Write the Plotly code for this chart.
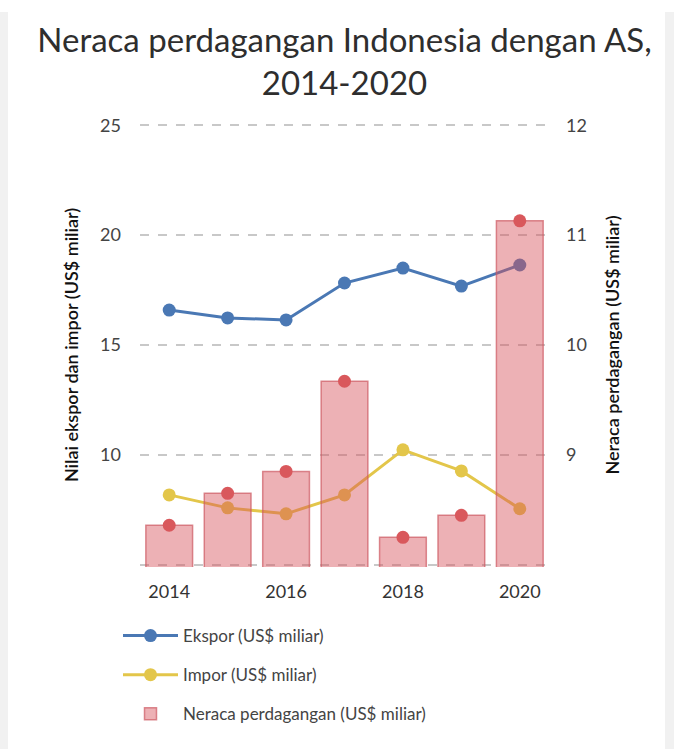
import plotly.graph_objects as go

years = [2014, 2015, 2016, 2017, 2018, 2019, 2020]
ekspor = [16.59, 16.23, 16.14, 17.82, 18.50, 17.68, 18.64]
impor = [8.18, 7.59, 7.32, 8.18, 10.23, 9.27, 7.55]
neraca = [8.36, 8.65, 8.85, 9.67, 8.25, 8.45, 11.13]

left_ticks = [5, 10, 15, 20, 25]
left_text = ["", "10", "15", "20", "25"]
right_ticks = [8, 9, 10, 11, 12]
right_text = ["", "9", "10", "11", "12"]
x_ticks = [2014, 2016, 2018, 2020]

BLUE = "#4a78b4"
YELLOW = "#e3c64a"
RED = "#d9585c"
FONT = "Lato"

fig = go.Figure()

fig.add_trace(go.Scatter(
    x=years, y=ekspor, name="Ekspor (US$ miliar)", mode="lines+markers",
    line=dict(color=BLUE, width=3), marker=dict(color=BLUE, size=13),
    legendgroup="a", yaxis="y"))
fig.add_trace(go.Scatter(
    x=years, y=impor, name="Impor (US$ miliar)", mode="lines+markers",
    line=dict(color=YELLOW, width=3), marker=dict(color=YELLOW, size=13),
    legendgroup="b", yaxis="y"))
fig.add_trace(go.Bar(
    x=years, y=neraca, name="Neraca perdagangan (US$ miliar)",
    marker=dict(color="rgba(214,82,90,0.45)", line=dict(color="rgba(205,90,98,0.7)", width=1.5)),
    width=0.8, legendgroup="c", yaxis="y2"))
fig.add_trace(go.Scatter(
    x=years, y=neraca, mode="markers", showlegend=False,
    marker=dict(color=RED, size=13), yaxis="y2"))

W, H = 674, 749
ml, mr, mt, mb = 140, 125, 123, 182
pw, ph = W - ml - mr, H - mt - mb

def px_x(p):
    return (p - ml) / pw

def px_y(p):
    return (H - mb - p) / ph

shapes = [
    dict(type="rect", xref="paper", yref="paper", x0=px_x(-5), x1=px_x(8),
         y0=px_y(760), y1=px_y(12), fillcolor="#f1f1f1", line=dict(width=0), layer="below"),
    dict(type="rect", xref="paper", yref="paper", x0=px_x(665), x1=px_x(680),
         y0=px_y(760), y1=px_y(12), fillcolor="#f1f1f1", line=dict(width=0), layer="below"),
]

eps_l = 0.1
eps_r = eps_l * 4 / 20

fig.update_layout(
    width=W, height=H,
    margin=dict(l=ml, r=mr, t=mt, b=mb),
    paper_bgcolor="white", plot_bgcolor="rgba(0,0,0,0)",
    font=dict(family=FONT, color="#444", size=16),
    title=dict(text="Neraca perdagangan Indonesia dengan AS,<br>2014-2020",
               x=0.5, xref="paper", xanchor="center", y=1 - 52 / H, yanchor="middle",
               font=dict(family=FONT, size=33, color="#2e2e2e")),
    xaxis=dict(range=[2013.5, 2020.5], tickvals=x_ticks, showgrid=False, zeroline=False,
               showline=False, ticks="", ticklabelstandoff=12,
               tickfont=dict(size=18, color="#333")),
    yaxis=dict(range=[5 - eps_l, 25 + eps_l], tickvals=left_ticks, ticktext=left_text,
               showgrid=True, gridcolor="#c8c8c8", griddash="dash", gridwidth=1.5,
               zeroline=False, showline=False, ticks="", ticklabelstandoff=18,
               tickfont=dict(size=18, color="#444"),
               title=dict(text="Nilai ekspor dan impor (US$ miliar)", standoff=16,
                          font=dict(family=FONT, size=18, color="#111", weight=600))),
    yaxis2=dict(range=[8 - eps_r, 12 + eps_r], tickvals=right_ticks, ticktext=right_text,
                overlaying="y", side="right", showgrid=False, zeroline=False,
                showline=False, ticks="", ticklabelstandoff=16,
                tickfont=dict(size=18, color="#444"),
                title=dict(text="Neraca perdagangan (US$ miliar)", standoff=20,
                           font=dict(family=FONT, size=18, color="#111", weight=600))),
    showlegend=True,
    legend=dict(orientation="v", x=px_x(118), xanchor="left", y=px_y(618), yanchor="top",
                tracegroupgap=14, font=dict(size=17, color="#444"),
                bgcolor="rgba(0,0,0,0)", itemwidth=55),
    bargap=0.2,
    shapes=shapes,
)

fig.write_html("out.html")
